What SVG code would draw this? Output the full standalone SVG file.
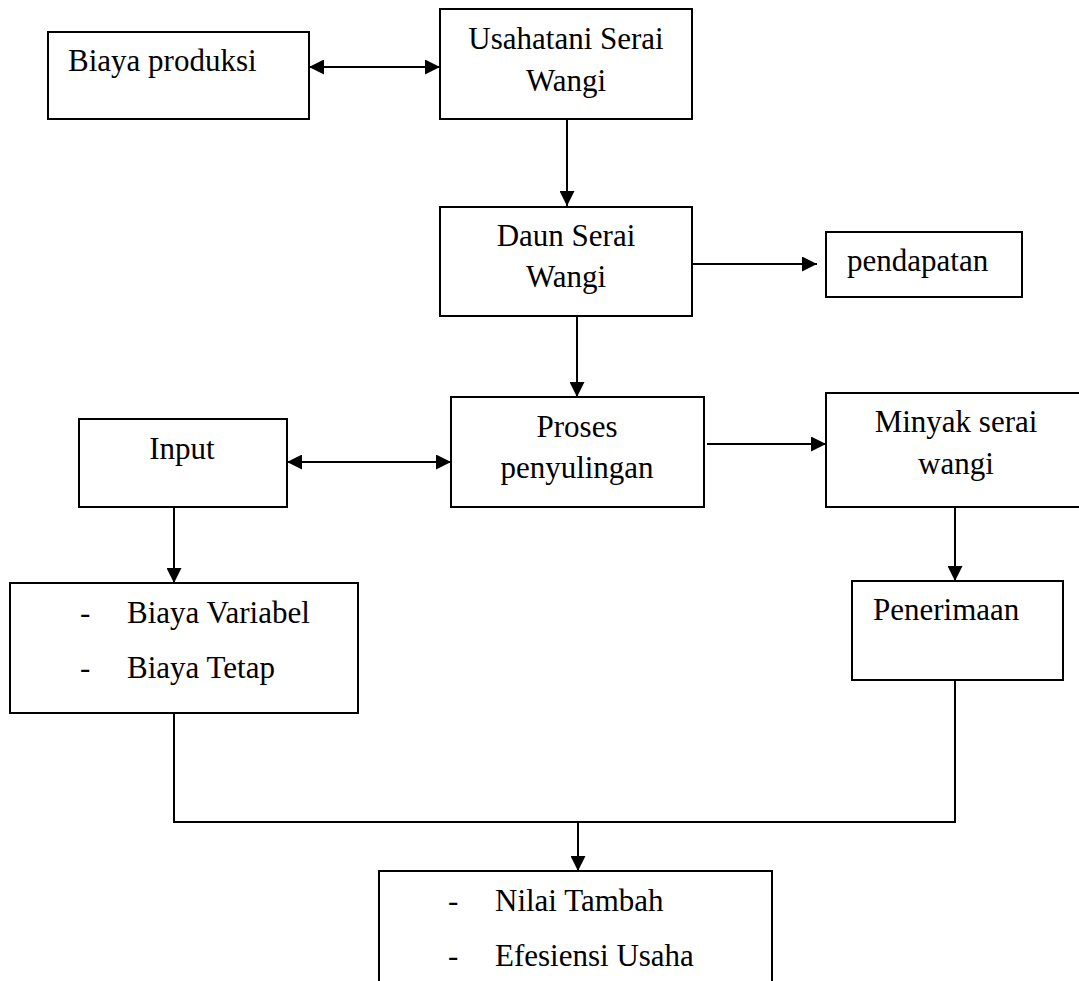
<svg xmlns="http://www.w3.org/2000/svg" width="1079" height="981" viewBox="0 0 1079 981">
<defs>
<style>
.box{fill:#fff;stroke:#000;stroke-width:2}
.ln{fill:none;stroke:#000;stroke-width:2}
.t{font-family:"Liberation Serif","Times New Roman",serif;font-size:31px;fill:#000}
.c{text-anchor:middle}
</style>
<marker id="ah" viewBox="0 0 16 16" refX="16" refY="8" markerWidth="16" markerHeight="15" markerUnits="userSpaceOnUse" orient="auto-start-reverse">
<path d="M0,0 L16,8 L0,16 z" fill="#000"/>
</marker>
</defs>
<rect width="1079" height="981" fill="#fff"/>
<g id="connectors">
<line class="ln" x1="309" y1="67" x2="440" y2="67" marker-start="url(#ah)" marker-end="url(#ah)"/>
<line class="ln" x1="567" y1="119" x2="567" y2="206" marker-end="url(#ah)"/>
<line class="ln" x1="692" y1="264" x2="817" y2="264" marker-end="url(#ah)"/>
<line class="ln" x1="577" y1="316" x2="577" y2="397" marker-end="url(#ah)"/>
<line class="ln" x1="287" y1="462" x2="451" y2="462" marker-start="url(#ah)" marker-end="url(#ah)"/>
<line class="ln" x1="707" y1="444" x2="826" y2="444" marker-end="url(#ah)"/>
<line class="ln" x1="174" y1="507" x2="174" y2="583" marker-end="url(#ah)"/>
<line class="ln" x1="955" y1="507" x2="955" y2="581" marker-end="url(#ah)"/>
<polyline class="ln" points="174,713 174,822 955,822 955,680"/>
<line class="ln" x1="578" y1="822" x2="578" y2="871" marker-end="url(#ah)"/>
</g>
<g id="biaya-produksi">
<rect class="box" x="48" y="32" width="261" height="87"/>
<text class="t" x="68" y="71">Biaya produksi</text>
</g>
<g id="usahatani">
<rect class="box" x="440" y="9" width="252" height="110"/>
<text class="t c" x="566" y="49">Usahatani Serai</text>
<text class="t c" x="566" y="91">Wangi</text>
</g>
<g id="daun">
<rect class="box" x="440" y="207" width="252" height="109"/>
<text class="t c" x="566" y="246">Daun Serai</text>
<text class="t c" x="566" y="287">Wangi</text>
</g>
<g id="pendapatan">
<rect class="box" x="826" y="232" width="196" height="65"/>
<text class="t" x="847" y="271">pendapatan</text>
</g>
<g id="input">
<rect class="box" x="79" y="419" width="208" height="88"/>
<text class="t c" x="182" y="459">Input</text>
</g>
<g id="proses">
<rect class="box" x="451" y="397" width="253" height="110"/>
<text class="t c" x="577" y="437">Proses</text>
<text class="t c" x="577" y="478">penyulingan</text>
</g>
<g id="minyak">
<rect class="box" x="826" y="393" width="262" height="114"/>
<text class="t c" x="956" y="432">Minyak serai</text>
<text class="t c" x="956" y="474">wangi</text>
</g>
<g id="biaya-list">
<rect class="box" x="10" y="583" width="348" height="130"/>
<text class="t" x="80" y="623">-</text>
<text class="t" x="127" y="623">Biaya Variabel</text>
<text class="t" x="80" y="678">-</text>
<text class="t" x="127" y="678">Biaya Tetap</text>
</g>
<g id="penerimaan">
<rect class="box" x="852" y="581" width="211" height="99"/>
<text class="t" x="873" y="620">Penerimaan</text>
</g>
<g id="hasil">
<rect class="box" x="379" y="871" width="393" height="130"/>
<text class="t" x="448" y="911">-</text>
<text class="t" x="495" y="911">Nilai Tambah</text>
<text class="t" x="448" y="966">-</text>
<text class="t" x="495" y="966">Efesiensi Usaha</text>
</g>
</svg>
